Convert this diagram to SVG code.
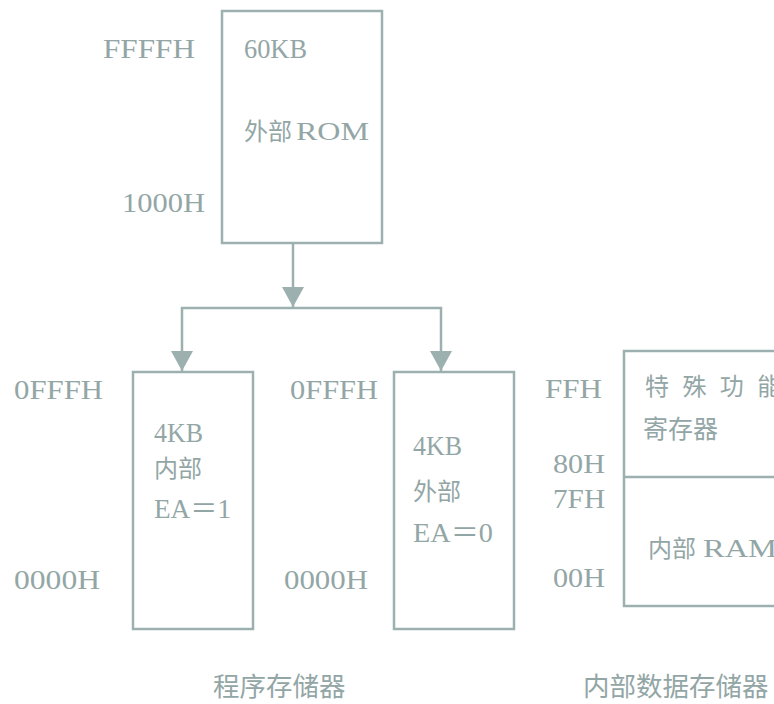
<svg xmlns="http://www.w3.org/2000/svg" width="774" height="704" viewBox="0 0 774 704">
<style>
.box{fill:#fff;stroke:#9db0b0;stroke-width:2.5}
.con{fill:none;stroke:#9db0b0;stroke-width:2.5}
.t{font-family:"Liberation Serif","Noto Sans CJK SC",serif;font-size:27px;fill:#93a6a6}
.c{font-family:"Noto Sans CJK SC",sans-serif;font-size:24px;fill:#93a6a6}
.m{font-family:"Liberation Serif","Noto Sans CJK SC",serif;font-size:26px;fill:#93a6a6}
</style>
<defs>
<marker id="ah" viewBox="0 0 20 22" refX="20" refY="11" markerWidth="20" markerHeight="22" markerUnits="userSpaceOnUse" orient="auto">
<path d="M0,0 L20,11 L0,22 z" fill="#9db0b0"/>
</marker>
</defs>
<rect width="774" height="704" fill="#fff"/>
<g id="connectors">
<path class="con" d="M293,243 V307" marker-end="url(#ah)"/>
<path class="con" d="M293,308 H182 V371" marker-end="url(#ah)"/>
<path class="con" d="M293,308 H441 V371" marker-end="url(#ah)"/>
</g>
<g id="rom">
<rect class="box" x="222" y="11" width="160" height="232"/>
<text class="t" x="244" y="58" textLength="63" lengthAdjust="spacingAndGlyphs">60KB</text>
<text class="m" x="244" y="140"><tspan class="c" style="font-size:24px">外部</tspan><tspan x="296" textLength="73" lengthAdjust="spacingAndGlyphs">ROM</tspan></text>
<text class="t" x="103" y="58" textLength="92" lengthAdjust="spacingAndGlyphs">FFFFH</text>
<text class="t" x="122" y="212" textLength="83" lengthAdjust="spacingAndGlyphs">1000H</text>
</g>
<g id="internal">
<rect class="box" x="133" y="372" width="120" height="257"/>
<text class="t" x="154" y="442" textLength="49" lengthAdjust="spacingAndGlyphs">4KB</text>
<text class="c" x="154" y="477">内部</text>
<text class="t" x="154" y="518" textLength="77" lengthAdjust="spacingAndGlyphs">EA＝1</text>
<text class="t" x="14" y="399" textLength="89" lengthAdjust="spacingAndGlyphs">0FFFH</text>
<text class="t" x="14" y="589" textLength="86" lengthAdjust="spacingAndGlyphs">0000H</text>
</g>
<g id="external">
<rect class="box" x="394" y="372" width="120" height="257"/>
<text class="t" x="413" y="455" textLength="49" lengthAdjust="spacingAndGlyphs">4KB</text>
<text class="c" x="413" y="500">外部</text>
<text class="t" x="413" y="542" textLength="80" lengthAdjust="spacingAndGlyphs">EA＝0</text>
<text class="t" x="290" y="399" textLength="88" lengthAdjust="spacingAndGlyphs">0FFFH</text>
<text class="t" x="284" y="589" textLength="84" lengthAdjust="spacingAndGlyphs">0000H</text>
</g>
<g id="ram">
<rect class="box" x="624" y="351" width="170" height="255"/>
<line class="con" x1="624" y1="477" x2="774" y2="477"/>
<text class="c" x="645" y="395" style="letter-spacing:4px">特 殊 功 能</text>
<text class="c" x="643" y="438" style="font-size:25px">寄存器</text>
<text class="m" x="648" y="557"><tspan class="c">内部</tspan><tspan x="703" textLength="74" lengthAdjust="spacingAndGlyphs">RAM</tspan></text>
<text class="t" x="545" y="398" textLength="57" lengthAdjust="spacingAndGlyphs">FFH</text>
<text class="t" x="553" y="473" textLength="52" lengthAdjust="spacingAndGlyphs">80H</text>
<text class="t" x="553" y="508" textLength="52" lengthAdjust="spacingAndGlyphs">7FH</text>
<text class="t" x="553" y="587" textLength="52" lengthAdjust="spacingAndGlyphs">00H</text>
</g>
<g id="labels">
<text class="c" x="213" y="696" style="font-size:26.5px">程序存储器</text>
<text class="c" x="583" y="696" style="font-size:26.5px">内部数据存储器</text>
</g>
</svg>
